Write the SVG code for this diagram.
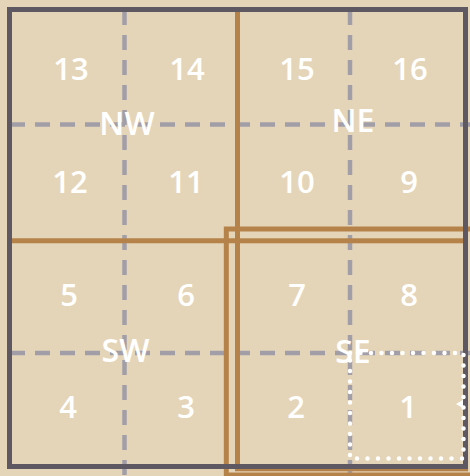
<svg xmlns="http://www.w3.org/2000/svg" width="470" height="476" viewBox="0 0 470 476">
<style>
.grid{stroke:#a29ea8;stroke-width:4.5;stroke-dasharray:15 10;fill:none}
.brown{stroke:#b5834a;stroke-width:5;fill:none}
.lbl{font-family:"Open Sans","Liberation Sans",sans-serif;font-size:31px;font-weight:600;fill:#ffffff;text-anchor:middle}
.q{font-size:32px}
</style>
<rect x="0" y="0" width="470" height="476" fill="#e5d5b8"/>
<g id="connectors">
<line class="grid" x1="124.5" y1="10" x2="124.5" y2="476"/>
<line class="grid" x1="350" y1="10" x2="350" y2="476"/>
<line class="grid" x1="10" y1="124.5" x2="470" y2="124.5"/>
<line class="grid" x1="10" y1="353" x2="470" y2="353"/>
<line class="brown" x1="237.5" y1="10" x2="237.5" y2="243"/>
<line class="brown" x1="10" y1="240.8" x2="240" y2="240.8"/>
<rect class="brown" x="237.5" y="240.8" width="228" height="228"/>
<rect class="brown" x="226.3" y="229" width="260" height="246"/>
<polygon points="456,404 467,397.5 467,410.5" fill="#ffffff"/>
<rect x="9.5" y="9.5" width="456" height="457" fill="none" stroke="#5e5862" stroke-width="5"/>
<rect x="350" y="353" width="113.5" height="105.5" fill="none" stroke="#ffffff" stroke-width="4.5" stroke-linecap="round" stroke-dasharray="0 10.5"/>
</g>
<g id="n13"><text class="lbl" x="71" y="80">13</text></g>
<g id="n14"><text class="lbl" x="187" y="80">14</text></g>
<g id="n15"><text class="lbl" x="297" y="80">15</text></g>
<g id="n16"><text class="lbl" x="410" y="80">16</text></g>
<g id="n12"><text class="lbl" x="70" y="193">12</text></g>
<g id="n11"><text class="lbl" x="186" y="193">11</text></g>
<g id="n10"><text class="lbl" x="297" y="193">10</text></g>
<g id="n9"><text class="lbl" x="409" y="193">9</text></g>
<g id="n5"><text class="lbl" x="69" y="306">5</text></g>
<g id="n6"><text class="lbl" x="186" y="306">6</text></g>
<g id="n7"><text class="lbl" x="297" y="306">7</text></g>
<g id="n8"><text class="lbl" x="409" y="306">8</text></g>
<g id="n4"><text class="lbl" x="68" y="418">4</text></g>
<g id="n3"><text class="lbl" x="186" y="418">3</text></g>
<g id="n2"><text class="lbl" x="296" y="418">2</text></g>
<g id="n1"><text class="lbl" x="408" y="418">1</text></g>
<g id="NW"><text class="lbl q" x="127" y="135">NW</text></g>
<g id="NE"><text class="lbl q" x="353" y="132">NE</text></g>
<g id="SW"><text class="lbl q" x="125.5" y="362">SW</text></g>
<g id="SE"><text class="lbl q" x="353" y="363">SE</text></g>
</svg>
